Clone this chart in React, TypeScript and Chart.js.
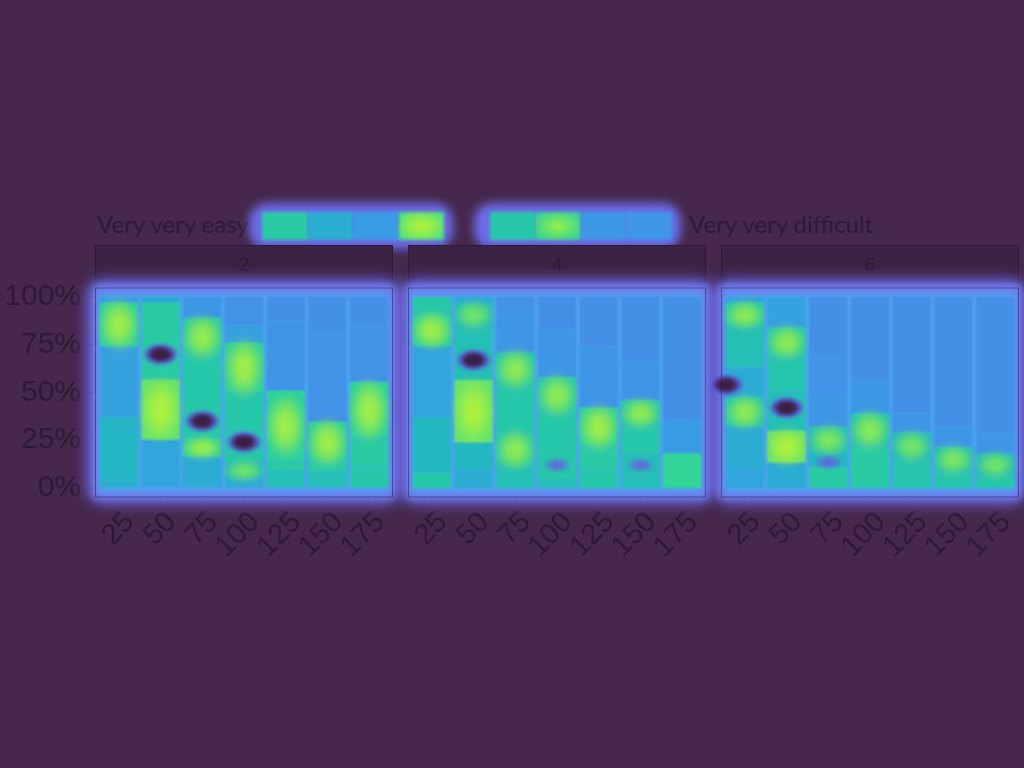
import { useEffect, useRef } from 'react';
import { Chart, registerables } from 'chart.js';
Chart.register(...registerables);

// ---- data ----
const facets = ['2', '4', '6'];
const sizes = ['25', '50', '75', '100', '125', '150', '175'];
const yTicks = [0, 25, 50, 75, 100];
const legendEnds = ['Very very easy', 'Very very difficult'];
// gaze heat of the nine legend keys (null = no gaze)
const legendHeat = [0.62, 0.42, 0.25, 0.95, null, 0.6, 0.85, 0.22, 0.18];

// segment shares per bar, bottom to top (%)
const shares2 = [
  [4, 33, 37, 23, 3],
  [4, 21, 32, 40, 3],
  [16, 10, 43, 20, 11],
  [5, 8, 17, 20, 26, 9, 15],
  [9, 5, 37, 36, 13],
  [8, 5, 21.5, 46.5, 19],
  [11, 15, 29.5, 29.5, 15],
];
const heat2 = [
  [0.45, 0.48, 0.3, 0.85, 0.3],
  [0.32, 0.35, 1.0, 0.62, 0.4],
  [0.4, 0.85, 0.6, 0.82, 0.22],
  [0.4, 0.72, 0.6, 0.6, 0.85, 0.3, 0.14],
  [0.55, 0.62, 0.85, 0.17, 0.12],
  [0.55, 0.62, 0.85, 0.16, 0.12],
  [0.6, 0.62, 0.85, 0.16, 0.12],
];
const cold2 = [[1, 70, 1], [2, 35, 1], [3, 24, 1]];

const shares4 = [
  [8, 29, 37, 17, 9],
  [9.5, 14, 33, 27.5, 13, 3],
  [11, 18, 24, 18, 20.5, 8.5],
  [4, 35, 19, 25, 17],
  [9.5, 12, 20.5, 32, 26],
  [18, 14, 14, 21, 33],
  [18, 17.5, 64.5],
];
const heat4 = [
  [0.6, 0.5, 0.35, 0.85, 0.6],
  [0.4, 0.5, 1.0, 0.55, 0.72, 0.4],
  [0.55, 0.8, 0.6, 0.8, 0.2, 0.15],
  [0.55, 0.6, 0.8, 0.18, 0.12],
  [0.6, 0.62, 0.85, 0.18, 0.12],
  [0.55, 0.6, 0.8, 0.18, 0.12],
  [0.68, 0.25, 0.12],
];
const cold4 = [[1, 67, 1], [3, 12, 0.5], [5, 12, 0.5]];

const shares6 = [
  [9.5, 22.5, 15.5, 15.5, 21, 13, 3],
  [13, 17, 21, 17.5, 15.5, 16],
  [11, 7, 14, 15.5, 21, 31.5],
  [21.5, 17.5, 16, 45],
  [14.5, 14.5, 10, 61],
  [8, 13.5, 10.5, 68],
  [6, 12, 11, 71],
];
const heat6 = [
  [0.35, 0.4, 0.8, 0.4, 0.55, 0.8, 0.35],
  [0.4, 1.0, 0.55, 0.58, 0.8, 0.3],
  [0.62, 0.5, 0.75, 0.2, 0.16, 0.12],
  [0.62, 0.78, 0.22, 0.12],
  [0.58, 0.72, 0.2, 0.12],
  [0.58, 0.75, 0.2, 0.12],
  [0.6, 0.72, 0.2, 0.12],
];
const cold6 = [[-0.45, 54, 1], [1, 42, 1], [2, 13.5, 0.5]];

// ---- style ----
const BG = '#45284c';
const INK = '#2e1a36';
const FONT = "'Liberation Sans', Arial, sans-serif";

const stops: [number, number[]][] = [
  [0, [74, 136, 230]],
  [0.2, [62, 150, 230]],
  [0.35, [48, 166, 220]],
  [0.5, [34, 184, 192]],
  [0.6, [38, 200, 170]],
  [0.7, [52, 216, 144]],
  [0.85, [125, 233, 90]],
  [1, [178, 242, 60]],
];
function heatRgb(h: number) {
  h = Math.max(0, Math.min(1, h));
  for (let i = 1; i < stops.length; i++) {
    const [h1, c1] = stops[i];
    const [h0, c0] = stops[i - 1];
    if (h <= h1) {
      const t = (h - h0) / (h1 - h0);
      return c0.map((v, j) => Math.round(v + (c1[j] - v) * t));
    }
  }
  return stops[stops.length - 1][1];
}
const rgba = (c: number[], a = 1) => `rgba(${c[0]},${c[1]},${c[2]},${a})`;
const baseColor = (h: number) => rgba(heatRgb(h >= 0.7 ? h - 0.2 : h));

function Facet({ label, shares, heat, cold, showY, left, width, padLeft, padRight }: any) {
  const ref = useRef<HTMLCanvasElement>(null);

  useEffect(() => {
    const n = Math.max(...shares.map((s: number[]) => s.length));
    const datasets = Array.from({ length: n }, (_, k) => ({
      label: 'seg' + k,
      data: shares.map((s: number[]) => (s[k] == null ? null : s[k])),
      backgroundColor: heat.map((h: number[]) => (h[k] == null ? 'transparent' : baseColor(h[k]))),
      borderWidth: 0,
      barPercentage: 0.92,
      categoryPercentage: 1,
    }));

    const panel = {
      id: 'panel' + label,
      beforeDatasetsDraw(chart: any) {
        const { ctx, chartArea: ca } = chart;
        const L = ca.left - 3, R = ca.right + 3, T = ca.top, B = ca.bottom;
        ctx.save();
        // strip
        ctx.fillStyle = '#3c2245';
        ctx.strokeStyle = '#2e1838';
        ctx.lineWidth = 1;
        ctx.fillRect(L, T - 42.5, R - L, 40);
        ctx.strokeRect(L + 0.5, T - 42, R - L - 1, 40);
        ctx.fillStyle = INK;
        ctx.font = `20px ${FONT}`;
        ctx.textAlign = 'center';
        ctx.textBaseline = 'middle';
        ctx.fillText(label, (L + R) / 2, T - 22);
        // halo
        ctx.filter = 'blur(7px)';
        ctx.fillStyle = 'rgba(114,112,244,0.95)';
        ctx.beginPath();
        ctx.roundRect(L - 8, T - 8, R - L + 16, B - T + 14, 16);
        ctx.fill();
        ctx.filter = 'blur(3px)';
        ctx.fillStyle = '#6c82ef';
        ctx.fillRect(L - 1, T - 2, R - L + 2, B - T + 3);
        ctx.fillStyle = '#4ea4f0';
        ctx.fillRect(L + 4, T + 7, R - L - 8, B - T - 13);
        ctx.restore();
        ctx.filter = 'blur(1.2px)';
      },
      afterDatasetsDraw(chart: any) {
        const { ctx, chartArea: ca } = chart;
        ctx.filter = 'none';
        const xs = chart.scales.x, ys = chart.scales.y;
        ctx.save();
        ctx.filter = 'blur(3px)';
        // warm spots inside cells
        chart.data.datasets.forEach((_: any, k: number) => {
          const meta = chart.getDatasetMeta(k);
          meta.data.forEach((el: any, i: number) => {
            const h = heat[i][k];
            if (h == null || h < 0.7) return;
            const p = el.getProps(['x', 'y', 'base', 'width'], true);
            const hh = Math.abs(p.base - p.y);
            if (!hh) return;
            const c = heatRgb(Math.min(1, h + 0.12));
            const rx = p.width * 0.55;
            const ry = Math.max(12, Math.min(hh * 0.65, 34));
            ctx.save();
            ctx.translate(p.x, (p.y + p.base) / 2);
            ctx.scale(rx, ry);
            const g = ctx.createRadialGradient(0, 0, 0, 0, 0, 1);
            g.addColorStop(0, rgba(c, 1));
            g.addColorStop(0.4, rgba(c, 0.8));
            g.addColorStop(1, rgba(c, 0));
            ctx.fillStyle = g;
            ctx.beginPath();
            ctx.arc(0, 0, 1, 0, Math.PI * 2);
            ctx.fill();
            ctx.restore();
          });
        });
        ctx.filter = 'blur(1.5px)';
        // gaze-free spots
        cold.forEach(([ix, yv, s]: number[]) => {
          const cx = xs.getPixelForValue(ix);
          const cy = ys.getPixelForValue(yv);
          const rx = s >= 1 ? 19 : 15, ry = s >= 1 ? 12 : 8;
          ctx.save();
          ctx.translate(cx, cy);
          ctx.scale(rx, ry);
          const g = ctx.createRadialGradient(0, 0, 0, 0, 0, 1);
          if (s >= 1) {
            g.addColorStop(0, '#3a1d40');
            g.addColorStop(0.42, '#3e2248');
            g.addColorStop(0.7, 'rgba(88,78,200,0.9)');
            g.addColorStop(1, 'rgba(100,110,240,0)');
          } else {
            g.addColorStop(0, 'rgba(104,92,215,0.95)');
            g.addColorStop(0.5, 'rgba(100,100,225,0.7)');
            g.addColorStop(1, 'rgba(100,110,240,0)');
          }
          ctx.fillStyle = g;
          ctx.beginPath();
          ctx.arc(0, 0, 1, 0, Math.PI * 2);
          ctx.fill();
          ctx.restore();
        });
        ctx.filter = 'none';
        // panel outline
        ctx.strokeStyle = 'rgba(46,24,56,0.5)';
        ctx.lineWidth = 1;
        ctx.strokeRect(ca.left - 2.5, ca.top + 0.5, ca.right - ca.left + 5, ca.bottom - ca.top - 1);
        ctx.restore();
      },
    };

    const yScale: any = {
      stacked: true,
      min: -5,
      max: 105,
      display: showY,
      afterBuildTicks: (s: any) => { s.ticks = yTicks.map((v) => ({ value: v })); },
      grid: { drawOnChartArea: false, tickLength: 10, color: INK, lineWidth: 1.5 },
      border: { display: false },
      ticks: { color: INK, font: { family: FONT, size: 30 }, padding: 7, callback: (v: any) => v + '%' },
    };
    if (showY) yScale.afterFit = (s: any) => { s.width = 98; };

    const chart = new Chart(ref.current!, {
      type: 'bar',
      data: { labels: sizes, datasets },
      options: {
        animation: false,
        responsive: true,
        maintainAspectRatio: false,
        layout: { padding: { top: 87.5, left: padLeft, right: padRight, bottom: 0 } },
        plugins: { legend: { display: false }, tooltip: { enabled: false } },
        scales: {
          x: {
            stacked: true,
            offset: true,
            grid: { offset: false, drawOnChartArea: false, drawTicks: true, tickLength: 6, color: INK, lineWidth: 1.5 },
            border: { display: false },
            ticks: { color: INK, font: { family: FONT, size: 29 }, minRotation: 45, maxRotation: 45, autoSkip: false, padding: 2, labelOffset: 11 },
            afterFit: (s: any) => { s.height = 82.5; },
          },
          y: yScale,
        },
      },
      plugins: [panel],
    } as any);
    return () => chart.destroy();
  }, []);

  return (
    <div style={{ position: 'absolute', left, top: 200, width, height: 380 }}>
      <canvas ref={ref} />
    </div>
  );
}

function Legend() {
  const cellW = 45.5;
  const halo = {
    position: 'absolute' as const, top: 203, height: 46, borderRadius: 18,
    background: 'rgba(110,112,242,0.95)', filter: 'blur(5px)',
  };
  return (
    <>
      <div style={{ position: 'absolute', left: 97, top: 209, font: `24px Lato, sans-serif`, color: INK, lineHeight: '30px' }}>
        {legendEnds[0]}
      </div>
      <div style={{ position: 'absolute', left: 689, top: 209, font: `24px Lato, sans-serif`, color: INK, lineHeight: '30px' }}>
        {legendEnds[1]}
      </div>
      <div style={{ ...halo, left: 249, width: 204 }} />
      <div style={{ ...halo, left: 474, width: 207 }} />
      {legendHeat.map((h, i) => {
        if (h == null) return null;
        const bg = h >= 0.7
          ? `radial-gradient(ellipse at center, ${rgba(heatRgb(Math.min(1, h + 0.08)))} 0%, ${rgba(heatRgb(h - 0.05))} 40%, ${rgba(heatRgb(h - 0.25))} 100%)`
          : rgba(heatRgb(h));
        return (
          <div key={i} style={{ position: 'absolute', left: 262 + i * cellW, top: 212, width: cellW, height: 28, background: bg, filter: 'blur(1.5px)' }} />
        );
      })}
    </>
  );
}

export default function App() {
  return (
    <div style={{ position: 'fixed', left: 0, top: 0, width: 1024, height: 768, background: BG, overflow: 'hidden' }}>
      <Legend />
      <Facet label={facets[0]} shares={shares2} heat={heat2} cold={cold2} showY left={0} width={404} padLeft={0} padRight={14} />
      <Facet label={facets[1]} shares={shares4} heat={heat4} cold={cold4} showY={false} left={396} width={324} padLeft={15} padRight={17} />
      <Facet label={facets[2]} shares={shares6} heat={heat6} cold={cold6} showY={false} left={704} width={320} padLeft={20} padRight={8} />
    </div>
  );
}
